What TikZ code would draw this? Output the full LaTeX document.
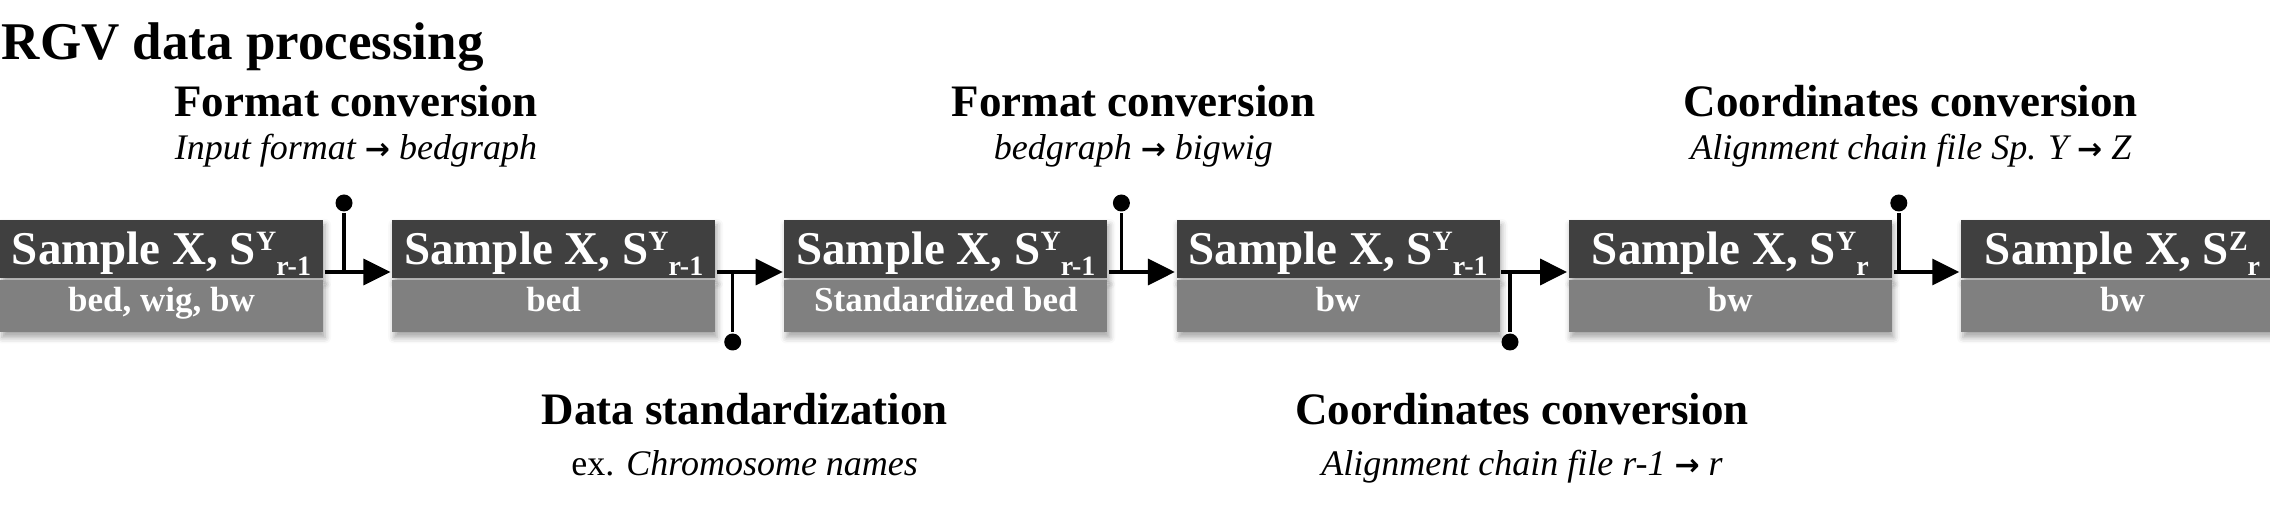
\documentclass[tikz,border=0pt]{standalone}
\usepackage{fontspec}
\setmainfont{Liberation Serif}
\newfontfamily\arrowfont{DejaVu Sans}
\usetikzlibrary{positioning,arrows.meta,shadows.blur}

\definecolor{darkbox}{HTML}{404040}
\definecolor{lightbox}{HTML}{808080}
\newcommand{\supsub}[2]{\raisebox{14pt}{\fontsize{28}{28}\selectfont #1}\raisebox{-11pt}{\fontsize{28}{28}\selectfont #2}}
\newcommand{\toarrow}{{\arrowfont\bfseries\fontsize{30}{30}\selectfont →}}

\begin{document}
\begin{tikzpicture}[x = 1pt, y = 1pt, line width = 3.5pt,
                        boxshadow/.style = {blur shadow = {shadow xshift = 2pt, shadow yshift = -5pt, shadow blur radius = 6pt, shadow opacity = 35}},
                        samp/.style = {rectangle, fill = darkbox, text = white, minimum width = 323pt, minimum height = 58pt, inner sep = 0pt,
                                       text height = 40pt, text depth = 8pt, font = \fontsize{47}{52}\selectfont\bfseries, boxshadow},
                        fmt/.style = {rectangle, fill = lightbox, text = white, minimum width = 323pt, minimum height = 52pt, inner sep = 0pt,
                                      text height = 29pt, text depth = 19pt, font = \fontsize{35}{40}\selectfont\bfseries, boxshadow},
                        stepname/.style = {anchor = base, inner sep = 0pt, font = \fontsize{45}{50}\selectfont\bfseries},
                        stepnote/.style = {anchor = base, inner sep = 0pt, font = \fontsize{36}{40}\selectfont\itshape},
                        dot/.style = {circle, fill = black, minimum size = 17pt, inner sep = 0pt},
                        flow/.style = {-{Triangle[length = 27pt, width = 26pt]}}]
      \useasboundingbox (0, 0) rectangle (2270, 522);
      \node [anchor = base west, inner sep = 0pt, font = \fontsize{53}{60}\selectfont\bfseries] (title) at (0, 462) {RGV data processing};
      % samples
      \node [samp] (s1) at (161.5, 273) {Sample X, S\supsub{Y}{r-1}};
      \node [fmt, below = -1pt of s1] (f1) {bed, wig, bw};
      \node [samp, right = 65.7pt of s1] (s2) {Sample X, S\supsub{Y}{r-1}};
      \node [fmt, below = -1pt of s2] (f2) {bed};
      \node [samp, right = 65.7pt of s2] (s3) {Sample X, S\supsub{Y}{r-1}};
      \node [fmt, below = -1pt of s3] (f3) {Standardized bed};
      \node [samp, right = 65.7pt of s3] (s4) {Sample X, S\supsub{Y}{r-1}};
      \node [fmt, below = -1pt of s4] (f4) {bw};
      \node [samp, right = 65.7pt of s4] (s5) {Sample X, S\supsub{Y}{r}};
      \node [fmt, below = -1pt of s5] (f5) {bw};
      \node [samp, right = 65.7pt of s5] (s6) {Sample X, S\supsub{Z}{r}};
      \node [fmt, below = -1pt of s6] (f6) {bw};
      % steps
      \coordinate (j1) at (344, 250);
      \coordinate (j2) at (732.7, 250);
      \coordinate (j3) at (1121.4, 250);
      \coordinate (j4) at (1510, 250);
      \coordinate (j5) at (1898.8, 250);
      \node [dot] (d1) at (344, 319){};
      \node [dot] (d2) at (732.7, 180){};
      \node [dot] (d3) at (1121.4, 319){};
      \node [dot] (d4) at (1510, 180){};
      \node [dot] (d5) at (1898.8, 319){};
      \draw [flow] (s1.east |- j1) -- (s2.west |- j1);
      \draw [flow] (s2.east |- j2) -- (s3.west |- j2);
      \draw [flow] (s3.east |- j3) -- (s4.west |- j3);
      \draw [flow] (s4.east |- j4) -- (s5.west |- j4);
      \draw [flow] (s5.east |- j5) -- (s6.west |- j5);
      \draw (d1) -- (j1);
      \draw (d2) -- (j2);
      \draw (d3) -- (j3);
      \draw (d4) -- (j4);
      \draw (d5) -- (j5);
      % labels
      \node [stepname] (t1) at (356, 405) {Format conversion};
      \node [stepnote] (n1) at (356, 362) {Input format \toarrow{} bedgraph};
      \node [stepname] (t2) at (744.7, 97) {Data standardization};
      \node [stepnote] (n2) at (744.7, 46) {{\upshape ex.} Chromosome names};
      \node [stepname] (t3) at (1133.4, 405) {Format conversion};
      \node [stepnote] (n3) at (1133.4, 362) {bedgraph \toarrow{} bigwig};
      \node [stepname] (t4) at (1522, 97) {Coordinates conversion};
      \node [stepnote] (n4) at (1522, 46) {Alignment chain file r-1 \toarrow{} r};
      \node [stepname] (t5) at (1910.8, 405) {Coordinates conversion};
      \node [stepnote] (n5) at (1910.8, 362) {Alignment chain file Sp. Y \toarrow{} Z};
    \end{tikzpicture}
\end{document}
